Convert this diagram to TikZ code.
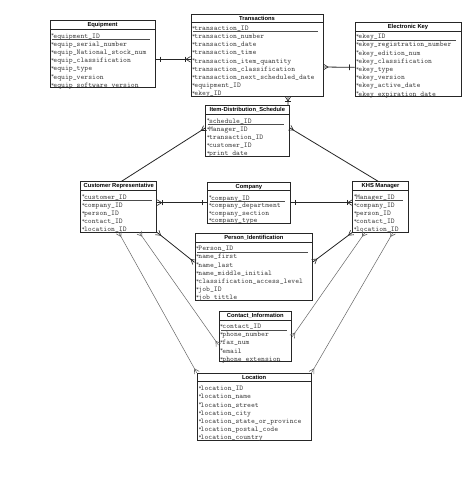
\documentclass[tikz,border=0pt]{standalone}
\usepackage{fontspec}
\newfontfamily\ttlfont{Liberation Sans}
\usetikzlibrary{fit,decorations.markings,calc}
\tikzset{
 ebox/.style={draw=black!85, line width=1pt, inner sep=0pt, fill=white},
 eline/.style={draw=black!85, line width=0.8pt},
 ttl/.style={font=\ttlfont\bfseries\fontsize{5.8}{6}\selectfont, inner sep=0pt},
 attr/.style={font=\ttfamily\fontsize{7.3}{8}\selectfont, text=black!75, inner sep=0pt, anchor=base west},
 uline/.style={draw=black!70, line width=0.5pt},
 conn/.style={draw=black!85, line width=0.8pt},
 thinconn/.style={draw=black!60, line width=0.5pt},
 manyE/.style={postaction={decorate,decoration={markings,mark=at position 0.9999 with {\draw[solid,line width=0.6pt] (0,2.8pt)--(-4.5pt,0)--(0,-2.8pt);}}}},
 manyS/.style={postaction={decorate,decoration={markings,mark=at position 0.0001 with {\draw[solid,line width=0.6pt] (0,2.8pt)--(4.5pt,0)--(0,-2.8pt);}}}},
 oneE/.style={postaction={decorate,decoration={markings,mark=at position -5pt with {\draw[solid,line width=0.6pt] (0,2.8pt)--(0,-2.8pt);}}}},
 oneS/.style={postaction={decorate,decoration={markings,mark=at position 5pt with {\draw[solid,line width=0.6pt] (0,2.8pt)--(0,-2.8pt);}}}},
}
\newcommand{\attrstar}{\makebox[2.2pt][l]{\raisebox{1.2pt}{\fontsize{5.5}{5.5}\selectfont *}}}
\newcommand{\erbox}[6]{%
  \node[ebox, fit={(#2,#3)(#4,#5)}] (#1) {};
  \draw[eline] (#2,#3+8.4) -- (#4,#3+8.4);
  \node[ttl] (#1-t) at ({(#2+#4)/2},#3+4.4) {#6};
}
\newcommand{\erows}[5]{%
  \foreach \t [count=\i] in {#5} {\node[attr] (#1-\i) at (#2+1,{#3+2.3+(\i-1)*#4}) {\attrstar\t};}
}
\newcommand{\ekeyline}[3]{\draw[uline] (#1+2,#2+3.6) -- (#3-5,#2+3.6);}
\begin{document}
\begin{tikzpicture}[x=1pt,y=-1pt]
\useasboundingbox (0,0) rectangle (474,483);
\fill[white] (0,0) rectangle (474,483);

% Equipment
\erbox{eq}{50}{20.5}{155}{87.5}{Equipment}
\erows{eq}{50}{35.8}{8.2}{equipment\_ID,equip\_serial\_number,equip\_National\_stock\_num,equip\_classification,equip\_type,equip\_version,equip\_software version}
\ekeyline{50}{35.8}{155}

% Transactions
\erbox{tr}{191}{14}{323}{96}{Transactions}
\erows{tr}{191}{28}{8.2}{transaction\_ID,transaction\_number,transaction\_date,transaction\_time,transaction\_item\_quantity,transaction\_classification,transaction\_next\_scheduled\_date,equipment\_ID,ekey\_ID}
\ekeyline{191}{28}{323}

% Electronic Key
\erbox{ek}{355}{22.7}{461}{96}{Electronic Key}
\erows{ek}{355}{36.3}{8.2}{ekey\_ID,ekey\_registration\_number,ekey\_edition\_num,ekey\_classification,ekey\_type,ekey\_version,ekey\_active\_date,ekey\_expiration date}
\ekeyline{355}{36.3}{461}

% Item-Distribution_Schedule
\erbox{ids}{205.7}{105.7}{289}{156}{Item-Distribution\_Schedule}
\erows{ids}{205.7}{120.7}{8.2}{schedule\_ID,Manager\_ID,transaction\_ID,customer\_ID,print date}
\ekeyline{205.7}{120.7}{289}

% Customer Representative
\erbox{cr}{80.7}{181.7}{156.7}{232}{Customer Representative}
\erows{cr}{80.7}{196.7}{8.2}{customer\_ID,company\_ID,person\_ID,contact\_ID,location\_ID}
\ekeyline{80.7}{196.7}{156.7}

% Company
\erbox{co}{207.7}{182.3}{290}{223}{Company}
\erows{co}{207.7}{197.8}{7.6}{company\_ID,company\_department,company\_section,company\_type}
\ekeyline{207.7}{197.8}{290}

% KHS Manager
\erbox{km}{352.7}{181.7}{408.3}{232}{KHS Manager}
\erows{km}{352.7}{196.7}{8.2}{Manager\_ID,company\_ID,person\_ID,contact\_ID,location\_ID}
\ekeyline{352.7}{196.7}{408.3}

% Person_Identification
\erbox{pi}{195}{233.5}{312.7}{300}{Person\_Identification}
\erows{pi}{195}{248.3}{8.2}{Person\_ID,name\_first,name\_last,name\_middle\_initial,classification\_access\_level,job\_ID,job tittle}
\ekeyline{195}{248.3}{312.7}

% Contact_Information
\erbox{ci}{219}{311.7}{291.7}{361.7}{Contact\_Information}
\erows{ci}{219}{326.2}{8.2}{contact\_ID,phone\_number,fax\_num,email,phone extension}
\ekeyline{219}{326.2}{291.7}

% Location
\erbox{lo}{197.3}{373.3}{311}{440}{Location}
\erows{lo}{197.3}{388.3}{8.2}{location\_ID,location\_name,location\_street,location\_city,location\_state\_or\_province,location\_postal\_code,location\_country}

% connectors
\draw[conn, oneS, manyE, oneE] ([yshift=-5.3pt]eq.east) coordinate (p1) -- (p1 -| tr.west);
\draw[conn, manyS, oneE] ([yshift=-12pt]tr.east) -- ([yshift=-8pt]ek.west);
\draw[conn, manyS, oneS] ([xshift=31pt]tr.south) -- ([xshift=40.65pt]ids.north);
\draw[conn, manyE] ([xshift=3pt]cr.north) -- ([yshift=2.85pt]ids.west);
\draw[conn, manyS] ([yshift=3.1pt]ids.east) -- ([xshift=-2.5pt]km.north);
\draw[conn, oneS, manyE, oneE] (co.west) -- (co.west -| cr.east);
\draw[conn, oneS, manyE, oneE] (co.east) -- (co.east -| km.west);
\draw[conn, manyS, manyE] (cr.south east) -- ([yshift=4.45pt]pi.west);
\draw[thinconn, manyS, manyE] ([xshift=20.6pt]cr.south) -- ([yshift=-8.3pt]ci.west);
\draw[thinconn, manyS, manyE] (cr.south) -- (lo.north west);
\draw[conn, manyS, manyE] (km.south west) -- ([yshift=5pt]pi.east);
\draw[thinconn, manyS, manyE] ([xshift=-15.5pt]km.south) -- (ci.east);
\draw[thinconn, manyS, manyE] ([xshift=12.5pt]km.south) -- (lo.north east);
\end{tikzpicture}
\end{document}
